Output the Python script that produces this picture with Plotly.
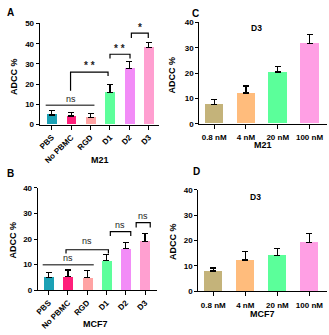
import plotly.graph_objects as go

W, H = 329, 335

# panel A / B (M21 / MCF7 groups)
groups = ["PBS", "No PBMC", "RGD", "D1", "D2", "D3"]
group_colors = ["#1ba1b5", "#ff1f7a", "#ffa3a3", "#5dff9b", "#f28cf7", "#ff9fd0"]
m21_vals = [4.8, 4.3, 3.7, 15.9, 27.7, 38.0]
m21_err = [2.2, 1.8, 1.7, 4.0, 3.5, 2.7]
mcf7_vals = [5.0, 5.35, 4.8, 11.5, 16.2, 19.1]
mcf7_err = [2.0, 2.55, 3.0, 2.4, 2.5, 3.1]

# panel C / D (D3 doses)
doses = ["0.8 nM", "4 nM", "20 nM", "100 nM"]
dose_colors = ["#c4b37a", "#ffbc7c", "#5bff9a", "#ff9fe4"]
m21_dose_vals = [7.7, 12.1, 20.4, 31.7]
m21_dose_err = [1.9, 2.8, 2.1, 3.5]
mcf7_dose_vals = [7.9, 12.3, 14.2, 19.3]
mcf7_dose_err = [1.2, 3.2, 2.6, 3.3]

FONT = "Liberation Sans"


def px_x(p):
    return p / W


def px_y(p):
    return 1 - p / H


fig = go.Figure()


def add_bars(vals, errs, colors, xa, ya, width):
    fig.add_trace(go.Bar(
        x=list(range(len(vals))), y=vals,
        marker=dict(color=colors, line=dict(width=0)),
        width=width,
        error_y=dict(type="data", array=errs, arrayminus=[0] * len(errs),
                     symmetric=False, color="black", thickness=1.2, width=3),
        xaxis=xa, yaxis=ya, showlegend=False, hoverinfo="skip",
    ))


add_bars(m21_vals, m21_err, group_colors, "x", "y", 0.5)
add_bars(mcf7_vals, mcf7_err, group_colors, "x2", "y2", 0.52)
add_bars(m21_dose_vals, m21_dose_err, dose_colors, "x3", "y3", 0.58)
add_bars(mcf7_dose_vals, mcf7_dose_err, dose_colors, "x4", "y4", 0.58)

tickfont = dict(family=FONT, size=8, color="black")


def xaxis(dom, labels, rng, angle, anchor, standoff=0):
    return dict(domain=dom, range=rng, anchor=anchor, tickvals=list(range(len(labels))),
                ticktext=["<b>%s</b>" % t for t in labels], tickangle=angle,
                showline=True, linecolor="black", linewidth=1, ticks="outside",
                ticklen=4, tickcolor="black", tickfont=tickfont, showgrid=False,
                zeroline=False, ticklabelstandoff=standoff)


def yaxis(dom, top, anchor):
    return dict(domain=dom, range=[0, top], anchor=anchor, tickvals=list(range(0, top + 1, 10)),
                ticktext=["<b>%d</b>" % v for v in range(0, top + 1, 10)],
                showline=True, linecolor="black", linewidth=1, ticks="outside",
                ticklen=3, tickcolor="black", tickfont=tickfont, showgrid=False,
                zeroline=False)


fig.update_layout(
    width=W, height=H, margin=dict(l=0, r=0, t=0, b=0),
    paper_bgcolor="white", plot_bgcolor="white", bargap=0,
    xaxis=xaxis([px_x(37), px_x(157)], groups, [-0.62, 5.5], -45, "y"),
    yaxis=yaxis([px_y(124), px_y(20)], 50, "x"),
    xaxis2=xaxis([px_x(35), px_x(155)], groups, [-0.57, 5.6], -45, "y2"),
    yaxis2=yaxis([px_y(294), px_y(189)], 40, "x2"),
    xaxis3=xaxis([px_x(198), px_x(327)], doses, [-0.47, 3.55], 0, "y3", 2),
    yaxis3=yaxis([px_y(123), px_y(19)], 40, "x3"),
    xaxis4=xaxis([px_x(197), px_x(327)], doses, [-0.47, 3.55], 0, "y4", 2),
    yaxis4=yaxis([px_y(295), px_y(191)], 40, "x4"),
)


def bracket(xa, ya, x0, x1, top, l0, l1, color="black"):
    fig.add_shape(type="path", xref=xa, yref=ya,
                  path="M %f %f L %f %f L %f %f L %f %f" % (x0, l0, x0, top, x1, top, x1, l1),
                  line=dict(color=color, width=1.2))


def line(xa, ya, x0, x1, y):
    fig.add_shape(type="line", xref=xa, yref=ya, x0=x0, x1=x1, y0=y, y1=y,
                  line=dict(color="#555555", width=1.5))


def sig(xa, ya, x, y, text, size=9):
    fig.add_annotation(xref=xa, yref=ya, x=x, y=y, text=text, showarrow=False,
                       xanchor="center", yanchor="middle",
                       font=dict(family=FONT, size=size, color="#222222"))


# panel A brackets
line("x", "y", -0.31, 2.2, 9.6)
sig("x", "y", 1.0, 12.8, "ns")
bracket("x", "y", 0.97, 2.9, 26.0, 16.7, 24.0)
sig("x", "y", 1.95, 29.0, "<b>* *</b>", 10)
bracket("x", "y", 3.0, 4.03, 34.8, 32.7, 32.7)
sig("x", "y", 3.5, 37.8, "<b>* *</b>", 10)
bracket("x", "y", 4.1, 4.97, 45.2, 42.8, 42.8)
sig("x", "y", 4.55, 48.0, "<b>*</b>", 10)

# panel B brackets
line("x2", "y2", -0.31, 2.34, 9.9)
sig("x2", "y2", 1.0, 12.4, "ns")
bracket("x2", "y2", 0.9, 3.1, 15.8, 14.3, 14.3)
sig("x2", "y2", 2.0, 19.1, "ns")
bracket("x2", "y2", 3.2, 4.26, 22.9, 21.2, 21.2)
sig("x2", "y2", 3.7, 25.5, "ns")
bracket("x2", "y2", 4.54, 5.27, 26.4, 24.5, 24.5)
sig("x2", "y2", 4.9, 29.2, "ns")


def text(x, y, s, size=9, angle=0):
    fig.add_annotation(xref="paper", yref="paper", x=px_x(x), y=px_y(y), text=s,
                       showarrow=False, textangle=angle, xanchor="center", yanchor="middle",
                       font=dict(family=FONT, size=size, color="black"))


# panel letters
text(8, 9, "<b>A</b>", 10)
text(8, 174, "<b>B</b>", 10)
text(194, 10, "<b>C</b>", 10)
text(195, 172, "<b>D</b>", 10)

# axis titles
text(11, 74, "<b>ADCC %</b>", 9, -90)
text(11, 242, "<b>ADCC %</b>", 9, -90)
text(171, 73, "<b>ADCC %</b>", 9, -90)
text(172, 244, "<b>ADCC %</b>", 9, -90)
text(98, 160, "<b>M21</b>", 9)
text(93, 329, "<b>MCF7</b>", 9)
text(262, 145, "<b>M21</b>", 9)
text(262, 319, "<b>MCF7</b>", 9)

# D3 subtitles
text(256, 25, "<b>D3</b>", 8.5)
text(255, 198, "<b>D3</b>", 8.5)

fig.write_html("out.html", config={"displayModeBar": False},
               post_script="document.body.style.margin='0';document.body.style.overflow='hidden';")
